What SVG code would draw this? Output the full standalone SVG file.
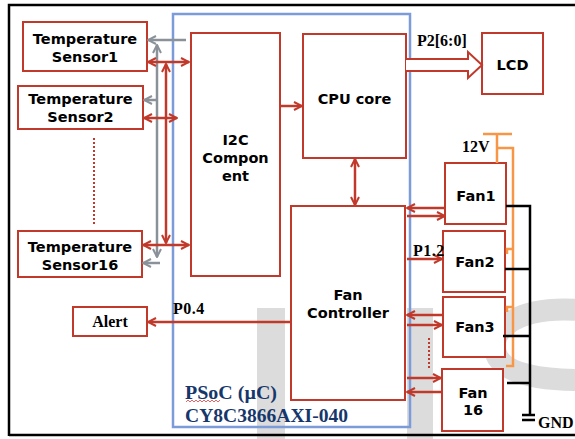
<svg xmlns="http://www.w3.org/2000/svg" width="575" height="439" viewBox="0 0 575 439">
<style>
.box{fill:#fff;stroke:#c0392b;stroke-width:2}
.rl{fill:none;stroke:#c0392b;stroke-width:2.5}
.gl{fill:none;stroke:#8a9199;stroke-width:2.5}
.lbl{font-family:"DejaVu Sans",Verdana,sans-serif;font-weight:bold;font-size:14.5px;fill:#000;text-anchor:middle}
.ser{font-family:"Liberation Serif","Times New Roman",serif;font-weight:bold;font-size:16px;fill:#000}
.psoc{font-family:"Liberation Serif","Times New Roman",serif;font-weight:bold;font-size:19px;fill:#17376b}
</style>
<defs>
<marker id="ar" viewBox="0 0 10 10" refX="9" refY="5" markerWidth="10" markerHeight="10" markerUnits="userSpaceOnUse" orient="auto-start-reverse"><path d="M1,1 L9,5 L1,9" fill="none" stroke="#c0392b" stroke-width="2"/></marker>
<marker id="ag" viewBox="0 0 10 10" refX="9" refY="5" markerWidth="10" markerHeight="10" markerUnits="userSpaceOnUse" orient="auto-start-reverse"><path d="M1,1 L9,5 L1,9" fill="none" stroke="#8a9199" stroke-width="2"/></marker>
</defs>
<rect width="575" height="439" fill="#fff"/>
<g id="watermark" fill="#dcdcdc" stroke="none">
<rect x="257" y="308" width="28" height="131"/>
<rect x="407" y="308" width="26" height="131"/>
<path d="M580,310 C510,305 485,335 498,358 C508,374 540,380 580,380" fill="none" stroke="#dcdcdc" stroke-width="22"/>
</g>
<g id="frame" fill="none" stroke="#000" stroke-width="2.5">
<path d="M9,436 V5 H578"/>
<path d="M9,435 H578"/>
</g>
<g id="psoc">
<rect x="173" y="14" width="237" height="413" fill="none" stroke="#7b9bd9" stroke-width="2.5"/>
<text class="psoc" x="185" y="399" textLength="92" lengthAdjust="spacingAndGlyphs">PSoC (µC)</text>
<text class="psoc" x="185" y="422" textLength="163" lengthAdjust="spacingAndGlyphs">CY8C3866AXI-040</text>
<path d="M186,402 l2,-2 l2,2 l2,-2 l2,2 l2,-2 l2,2 l2,-2 l2,2 l2,-2 l2,2 l2,-2 l2,2 l2,-2 l2,2 l2,-2 l2,2 l2,-2" fill="none" stroke="#e04040" stroke-width="0.8"/>
</g>
<g id="sensor1"><rect class="box" x="23" y="22" width="124" height="49"/><text class="lbl" x="85" y="44">Temperature</text><text class="lbl" x="85" y="62">Sensor1</text></g>
<g id="sensor2"><rect class="box" x="18" y="86" width="125" height="43"/><text class="lbl" x="80.5" y="104">Temperature</text><text class="lbl" x="80.5" y="122">Sensor2</text></g>
<g id="sensor16"><rect class="box" x="18" y="231" width="124" height="46"/><text class="lbl" x="80" y="252">Temperature</text><text class="lbl" x="80" y="270">Sensor16</text></g>
<g id="alert"><rect class="box" x="73" y="307" width="74" height="29"/><text class="ser" x="110" y="327" text-anchor="middle" font-size="17">Alert</text></g>
<g id="i2c"><rect class="box" x="191" y="33" width="89" height="243"/><text class="lbl" x="235.5" y="145">I2C</text><text class="lbl" x="235.5" y="163">Compon</text><text class="lbl" x="235.5" y="181">ent</text></g>
<g id="cpu"><rect class="box" x="303" y="34" width="103" height="124"/><text class="lbl" x="354.5" y="104">CPU core</text></g>
<g id="fanctrl"><rect class="box" x="291" y="206" width="114" height="194"/><text class="lbl" x="348" y="300">Fan</text><text class="lbl" x="348" y="318">Controller</text></g>
<g id="lcd"><rect class="box" x="482" y="33" width="61" height="61"/><text class="lbl" x="512.5" y="70">LCD</text></g>
<g id="fan1"><rect class="box" x="445" y="163" width="61" height="61"/><text class="lbl" x="476" y="201">Fan1</text></g>
<g id="fan2"><rect class="box" x="443" y="231" width="62" height="61"/><text class="lbl" x="475" y="267">Fan2</text></g>
<g id="fan3"><rect class="box" x="443" y="297" width="62" height="60"/><text class="lbl" x="475" y="332">Fan3</text></g>
<g id="fan16"><rect class="box" x="442" y="369" width="61" height="62"/><text class="lbl" x="473" y="398">Fan</text><text class="lbl" x="473" y="415">16</text></g>
<g id="power">
<path d="M483,134 H512 M497,134 V163 M497,148 H513 V366 H506 M513,249 H507 V254 M513,307 H507 V312" fill="none" stroke="#f79646" stroke-width="2.5"/>
<text class="ser" x="462" y="152">12V</text>
<path d="M506,206 H530 V415 M505,269 H530 M503,336 H530 M507,383 H530" fill="none" stroke="#000" stroke-width="2.5"/>
<path d="M522,415 H535 M522,420 H535" fill="none" stroke="#000" stroke-width="2.5"/>
<text class="ser" x="538" y="428" font-weight="normal">GND</text>
</g>
<g id="connectors">
<path class="gl" d="M186,40 H148" marker-end="url(#ag)"/>
<path class="gl" d="M157,257 V45" marker-start="url(#ag)" marker-end="url(#ag)"/>
<path class="gl" d="M157,100 H144" marker-end="url(#ag)"/>
<path class="gl" d="M160,263 H143" marker-end="url(#ag)"/>
<path class="rl" d="M148,62 H189" marker-start="url(#ar)" marker-end="url(#ar)"/>
<path class="rl" d="M144,118 H177" marker-start="url(#ar)" marker-end="url(#ar)"/>
<path class="rl" d="M143,245 H189" marker-start="url(#ar)" marker-end="url(#ar)"/>
<path class="rl" d="M166,64 V243" marker-start="url(#ar)" marker-end="url(#ar)"/>
<path d="M94,138 V226" fill="none" stroke="#c0392b" stroke-width="2" stroke-dasharray="2,2"/>
<path class="rl" d="M280,106 H302" marker-end="url(#ar)"/>
<path class="rl" d="M355,159 V205" marker-start="url(#ar)" marker-end="url(#ar)"/>
<path d="M406,59 H468 V52 L482,65 L468,78 V71 H406" fill="#fff" stroke="#c0392b" stroke-width="2"/>
<text class="ser" x="417" y="46" font-size="16.5">P2[6:0]</text>
<path class="rl" d="M446,208 H407" marker-end="url(#ar)"/>
<path class="rl" d="M407,216 H445" marker-end="url(#ar)"/>
<path class="rl" d="M407,259 H442" marker-end="url(#ar)"/>
<text class="ser" x="413" y="256" letter-spacing="0.5">P1.2</text>
<path class="rl" d="M443,315 H407" marker-end="url(#ar)"/>
<path class="rl" d="M407,325 H442" marker-end="url(#ar)"/>
<path d="M429,338 V368" fill="none" stroke="#c0392b" stroke-width="2" stroke-dasharray="2,2"/>
<path class="rl" d="M407,378 H441" marker-end="url(#ar)"/>
<path class="rl" d="M442,392 H407" marker-end="url(#ar)"/>
<path class="rl" d="M291,322 H148" marker-end="url(#ar)"/>
<text class="ser" x="173" y="314" letter-spacing="0.5">P0.4</text>
</g>
</svg>
